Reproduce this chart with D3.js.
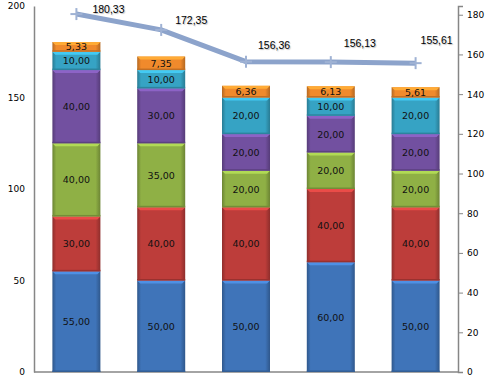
<!DOCTYPE html>
<html>
<head>
<meta charset="utf-8">
<script src="https://cdn.jsdelivr.net/npm/d3@7"></script>
<style>
  body{margin:0;background:#fff;}
  #chart{width:489px;height:384px;}
  .tick text{font-family:"DejaVu Sans",sans-serif;font-size:9px;fill:#000;}
</style>
</head>
<body>
<div id="chart"></div>
<script>
// data
let categories=["A","B","C","D","E"];
let seriesNames=["s1","s2","s3","s4","s5","s6"];
let s1=[55,50,50,60,50];
let s2=[30,40,40,40,40];
let s3=[40,35,20,20,20];
let s4=[40,30,20,20,20];
let s5=[10,10,20,10,20];
let s6=[5.33,7.35,6.36,6.13,5.61];
let totals=[180.33,172.35,156.36,156.13,155.61];
let leftTicks=[0,50,100,150,200];
let rightTicks=[0,20,40,60,80,100,120,140,160,180];

(function(){
    let colors=["#3f74b9","#bd3d3a","#8fb045","#7250a0","#36a3c4","#f08a2c"];
    let series=[s1,s2,s3,s4,s5,s6];
    // label placement relative to each line point (dragged labels in the original)
    let labelOffsets=[[16,-1],[14,-6],[12,-13],[13,-15],[5,-19]];
    let margin={left:34,right:31,top:6,bottom:12};
    let W=489,H=384;
    let width=W-margin.left-margin.right;
    let height=H-margin.top-margin.bottom;
    let svg=d3.select("#chart").append("svg").attr("width",W).attr("height",H);
    let defs=svg.append("defs");
    colors.forEach(function(c,i){
        let g=defs.append("linearGradient").attr("id","grad"+i)
            .attr("x1","0").attr("x2","1").attr("y1","0").attr("y2","0");
        let dark=d3.color(c).darker(0.8);
        g.append("stop").attr("offset","0").attr("stop-color",dark);
        g.append("stop").attr("offset","0.08").attr("stop-color",c);
        g.append("stop").attr("offset","0.9").attr("stop-color",c);
        g.append("stop").attr("offset","1").attr("stop-color",dark);
    });
    defs.append("filter").attr("id","soft").append("feGaussianBlur").attr("stdDeviation",0.5);
    let root=svg.append("g").attr("transform","translate("+margin.left+","+margin.top+")");
    let x=d3.scaleBand().domain(categories).range([0,width]).paddingInner(0.434).paddingOuter(0.217);
    let y=d3.scaleLinear().domain([0,200]).range([height,0]);
    let y2=d3.scaleLinear().domain([0,184.4]).range([height,0]);

    // left axis
    let la=root.append("g").call(d3.axisLeft(y).tickValues(leftTicks).tickSize(0).tickPadding(9));
    la.select(".domain").attr("stroke","#868686").attr("stroke-width",1.5);
    // right axis
    let ra=root.append("g").attr("transform","translate("+width+",0)")
        .call(d3.axisRight(y2).tickValues(rightTicks).tickSize(5).tickPadding(4));
    ra.select(".domain").attr("stroke","#868686").attr("stroke-width",1.5);
    ra.selectAll(".tick line").attr("stroke","#868686");
    // bottom axis line
    root.append("line").attr("x1",0).attr("x2",width).attr("y1",height).attr("y2",height)
        .attr("stroke","#868686").attr("stroke-width",1.5);

    // stacked bars
    let table=categories.map(function(c,i){
        let row={cat:c};
        seriesNames.forEach(function(n,k){row[n]=series[k][i];});
        return row;
    });
    let stack=d3.stack().keys(seriesNames)(table);
    stack.forEach(function(layer,k){
        let g=root.append("g");
        layer.forEach(function(d){
            let bx=x(d.data.cat),bw=x.bandwidth();
            let top=y(d[1]),bot=y(d[0]),h=bot-top;
            g.append("rect").attr("x",bx).attr("y",top).attr("width",bw).attr("height",h)
                .attr("fill","url(#grad"+k+")");
            let light=d3.color(colors[k]).brighter(0.6);
            g.append("path").attr("d","M"+bx+","+top+"L"+(bx+bw)+","+top+"L"+(bx+bw-3)+","+(top+3)+"L"+(bx+3)+","+(top+3)+"Z")
                .attr("fill",light);
            g.append("rect").attr("x",bx).attr("y",bot-1.5).attr("width",bw).attr("height",1.5)
                .attr("fill",d3.color(colors[k]).darker(0.6));
            g.append("text").attr("x",bx+bw/2).attr("y",(top+bot)/2+1)
                .attr("text-anchor","middle").attr("dominant-baseline","middle")
                .attr("font-family","DejaVu Sans, sans-serif").attr("font-size","9.5px")
                .attr("fill","#111")
                .text(d3.format(".2f")(d[1]-d[0]).replace(".",","));
        });
    });

    // total line on right axis
    let lineColor="#8ca3cb";
    let lg=root.append("g").attr("filter","url(#soft)");
    lg.append("path").datum(totals)
        .attr("fill","none").attr("stroke",lineColor).attr("stroke-width",5)
        .attr("stroke-linejoin","round")
        .attr("d",d3.line().x(function(d,i){return x(categories[i])+x.bandwidth()/2;}).y(function(d){return y2(d);}));
    totals.forEach(function(v,i){
        let cx=x(categories[i])+x.bandwidth()/2,cy=y2(v);
        lg.append("line").attr("x1",cx-6).attr("x2",cx+6).attr("y1",cy).attr("y2",cy)
            .attr("stroke","#9fb2d4").attr("stroke-width",2);
        lg.append("line").attr("x1",cx).attr("x2",cx).attr("y1",cy-6).attr("y2",cy+6)
            .attr("stroke","#9fb2d4").attr("stroke-width",2);
    });
    let tg=root.append("g");
    totals.forEach(function(v,i){
        let cx=x(categories[i])+x.bandwidth()/2,cy=y2(v);
        tg.append("text").attr("x",cx+labelOffsets[i][0]).attr("y",cy+labelOffsets[i][1])
            .attr("font-family","Liberation Sans, Arial, sans-serif").attr("font-size","10.5px")
            .attr("fill","#000").style("text-shadow","1px 1px 1px rgba(0,0,0,0.25)")
            .text(d3.format(".2f")(v).replace(".",","));
    });
})();
</script>
</body>
</html>
